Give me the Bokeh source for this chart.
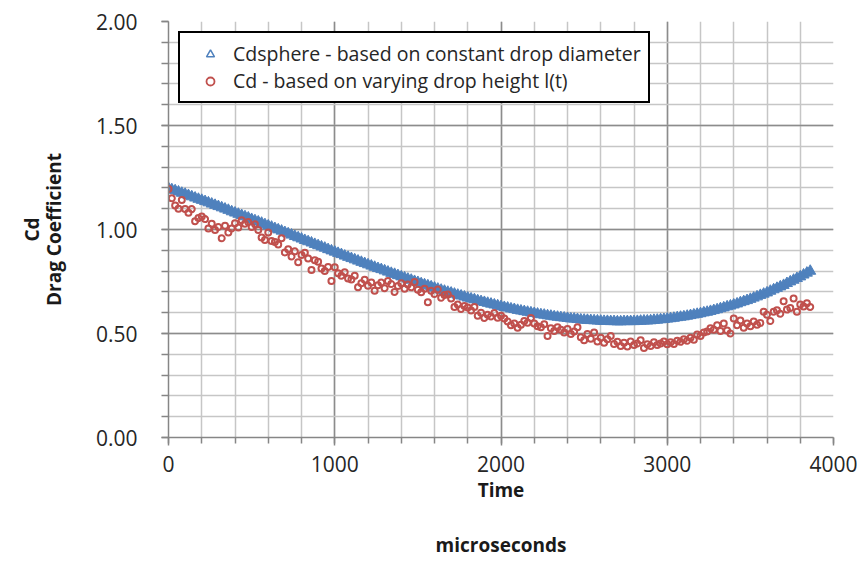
from bokeh.plotting import figure
from bokeh.models import Range1d, FixedTicker, Legend, LegendItem, NumeralTickFormatter
from bokeh.embed import file_html
from bokeh.resources import INLINE

# ---------------- data ----------------
x_major_ticks = [0, 1000, 2000, 3000, 4000]
y_major_ticks = [0.0, 0.5, 1.0, 1.5, 2.0]

# Cdsphere - based on constant drop diameter (sampled every 20 microseconds from t=0)
cd_sphere = [
    1.198, 1.192, 1.187, 1.181, 1.175, 1.170, 1.164, 1.158, 1.152, 1.146,
    1.141, 1.135, 1.129, 1.123, 1.117, 1.111, 1.105, 1.099, 1.093, 1.086,
    1.080, 1.074, 1.068, 1.062, 1.056, 1.049, 1.043, 1.037, 1.031, 1.024,
    1.018, 1.012, 1.005, 0.999, 0.993, 0.986, 0.980, 0.974, 0.967, 0.961,
    0.955, 0.948, 0.942, 0.936, 0.929, 0.923, 0.917, 0.911, 0.904, 0.898,
    0.892, 0.886, 0.880, 0.873, 0.867, 0.861, 0.855, 0.849, 0.843, 0.837,
    0.831, 0.825, 0.819, 0.813, 0.808, 0.802, 0.796, 0.790, 0.785, 0.779,
    0.773, 0.768, 0.762, 0.757, 0.751, 0.746, 0.740, 0.735, 0.730, 0.725,
    0.719, 0.714, 0.709, 0.704, 0.699, 0.695, 0.690, 0.685, 0.681, 0.676,
    0.671, 0.667, 0.663, 0.658, 0.654, 0.650, 0.646, 0.642, 0.638, 0.634,
    0.630, 0.626, 0.623, 0.619, 0.616, 0.612, 0.609, 0.606, 0.603, 0.600,
    0.597, 0.594, 0.591, 0.589, 0.586, 0.584, 0.581, 0.579, 0.577, 0.575,
    0.573, 0.571, 0.570, 0.568, 0.566, 0.565, 0.564, 0.563, 0.562, 0.561,
    0.560, 0.559, 0.559, 0.558, 0.558, 0.557, 0.557, 0.558, 0.558, 0.558,
    0.558, 0.559, 0.560, 0.561, 0.561, 0.562, 0.564, 0.565, 0.567, 0.568,
    0.570, 0.572, 0.574, 0.577, 0.579, 0.581, 0.584, 0.587, 0.590, 0.593,
    0.596, 0.600, 0.603, 0.607, 0.611, 0.615, 0.620, 0.624, 0.629, 0.633,
    0.638, 0.643, 0.649, 0.654, 0.659, 0.665, 0.671, 0.677, 0.684, 0.690,
    0.696, 0.704, 0.711, 0.718, 0.725, 0.732, 0.741, 0.749, 0.757, 0.765,
    0.773, 0.782, 0.791, 0.800,
]

# Cd - based on varying drop height l(t) (sampled every 20 microseconds from t=0)
cd_height = [
    1.195, 1.150, 1.115, 1.100, 1.142, 1.098, 1.080, 1.098, 1.040, 1.055,
    1.062, 1.050, 1.005, 1.028, 0.998, 1.012, 0.958, 1.018, 0.985, 1.005,
    1.030, 1.010, 1.045, 1.028, 1.036, 1.012, 1.025, 0.998, 0.962, 0.950,
    0.985, 0.945, 0.940, 0.928, 0.958, 0.890, 0.905, 0.870, 0.895, 0.842,
    0.878, 0.888, 0.860, 0.805, 0.852, 0.845, 0.812, 0.800, 0.820, 0.752,
    0.818, 0.790, 0.778, 0.795, 0.765, 0.760, 0.778, 0.722, 0.742, 0.758,
    0.730, 0.745, 0.705, 0.732, 0.745, 0.718, 0.752, 0.738, 0.700, 0.728,
    0.742, 0.715, 0.735, 0.722, 0.748, 0.710, 0.698, 0.715, 0.650, 0.705,
    0.690, 0.712, 0.672, 0.685, 0.688, 0.668, 0.628, 0.640, 0.618, 0.632,
    0.625, 0.610, 0.628, 0.585, 0.600, 0.575, 0.590, 0.582, 0.598, 0.576,
    0.585, 0.572, 0.558, 0.540, 0.548, 0.528, 0.542, 0.560, 0.552, 0.575,
    0.548, 0.535, 0.530, 0.545, 0.488, 0.525, 0.512, 0.530, 0.518, 0.505,
    0.522, 0.497, 0.510, 0.530, 0.482, 0.468, 0.498, 0.475, 0.505, 0.462,
    0.480, 0.455, 0.472, 0.488, 0.450, 0.460, 0.440, 0.455, 0.438, 0.462,
    0.445, 0.452, 0.468, 0.430, 0.448, 0.440, 0.458, 0.445, 0.452, 0.462,
    0.448, 0.458, 0.450, 0.465, 0.460, 0.472, 0.465, 0.480, 0.470, 0.495,
    0.488, 0.505, 0.510, 0.525, 0.518, 0.540, 0.512, 0.548, 0.515, 0.500,
    0.572, 0.540, 0.562, 0.528, 0.548, 0.535, 0.558, 0.542, 0.550, 0.605,
    0.590, 0.560, 0.605, 0.612, 0.595, 0.655, 0.615, 0.622, 0.668, 0.605,
    0.640, 0.630, 0.645, 0.628,
]

DT = 20  # sampling interval, microseconds
t_sphere = [i * DT for i in range(len(cd_sphere))]
t_height = [i * DT for i in range(len(cd_height))]

# ---------------- styling ----------------
FONT = "Open Sans"
BLUE = "#4F81BD"
RED = "#C0504D"
AXIS_GRAY = "#868686"
TEXT = "#262626"

p = figure(width=857, height=561, output_backend="svg", toolbar_location=None,
           x_range=Range1d(0, 4000), y_range=Range1d(0, 2),
           min_border_left=168, min_border_right=24, min_border_top=21,
           min_border_bottom=113)
p.outline_line_color = None
p.background_fill_color = "white"

p.xaxis.ticker = FixedTicker(ticks=x_major_ticks, minor_ticks=list(range(0, 4001, 200)))
p.yaxis.ticker = FixedTicker(ticks=y_major_ticks,
                             minor_ticks=[round(0.1 * i, 1) for i in range(21)])
p.yaxis.formatter = NumeralTickFormatter(format="0.00")

for ax in (p.xaxis, p.yaxis):
    ax.axis_line_color = AXIS_GRAY
    ax.axis_line_width = 1.5
    ax.major_tick_line_color = AXIS_GRAY
    ax.major_tick_line_width = 1.5
    ax.minor_tick_line_color = AXIS_GRAY
    ax.minor_tick_line_width = 1.5
    ax.major_tick_in = 0
    ax.minor_tick_in = 0
    ax.major_label_text_font = FONT
    ax.major_label_text_font_size = "21px"
    ax.major_label_text_color = TEXT
    ax.axis_label_text_font = FONT
    ax.axis_label_text_font_size = "19px"
    ax.axis_label_text_font_style = "bold"
    ax.axis_label_text_color = "#1a1a1a"

p.xaxis.major_tick_out = 8
p.xaxis.minor_tick_out = 6
p.xaxis.major_label_standoff = 10
p.yaxis.major_tick_out = 7
p.yaxis.minor_tick_out = 7
p.yaxis.major_label_standoff = 24

p.xaxis.axis_label = "Time\nmicroseconds"
p.xaxis.axis_label_text_line_height = 2.15
p.xaxis.axis_label_standoff = 2
p.yaxis.axis_label = "Cd\nDrag Coefficient"
p.yaxis.axis_label_text_line_height = 0.85
p.yaxis.axis_label_standoff = 26

p.xgrid.grid_line_color = "#8c8c8c"
p.xgrid.grid_line_width = 1.5
p.xgrid.minor_grid_line_color = "#c6c6c6"
p.xgrid.minor_grid_line_width = 1.5
p.ygrid.grid_line_color = "#8c8c8c"
p.ygrid.grid_line_width = 1.5
p.ygrid.minor_grid_line_color = "#c6c6c6"
p.ygrid.minor_grid_line_width = 1.5

# data
p.scatter(t_sphere, cd_sphere, marker="triangle", size=11,
          fill_color=BLUE, line_color=BLUE, line_width=1)
p.scatter(t_height, cd_height, marker="circle", size=6,
          fill_color=None, line_color=RED, line_width=2)

# legend glyphs (hollow markers, as in the reference legend); no visible data
nan = float("nan")
leg_blue = p.scatter([nan], [nan], marker="triangle", size=7, fill_color="white",
                     line_color=BLUE, line_width=1.5)
leg_red = p.scatter([nan], [nan], marker="circle", size=6, fill_color="white",
                    line_color=RED, line_width=1.8)

legend = Legend(items=[
    LegendItem(label="Cdsphere - based on constant drop diameter", renderers=[leg_blue]),
    LegendItem(label="Cd - based on varying drop height l(t)", renderers=[leg_red]),
], location="top_left", margin=10, padding=7, glyph_width=46, glyph_height=20,
    label_height=20, label_standoff=0, spacing=0,
    label_text_font=FONT, label_text_font_size="19.5px", label_text_color=TEXT,
    border_line_color="black", border_line_width=2, border_line_alpha=1,
    background_fill_color="white", background_fill_alpha=1)
p.add_layout(legend)

open("out.html", "w").write(file_html(p, INLINE))
